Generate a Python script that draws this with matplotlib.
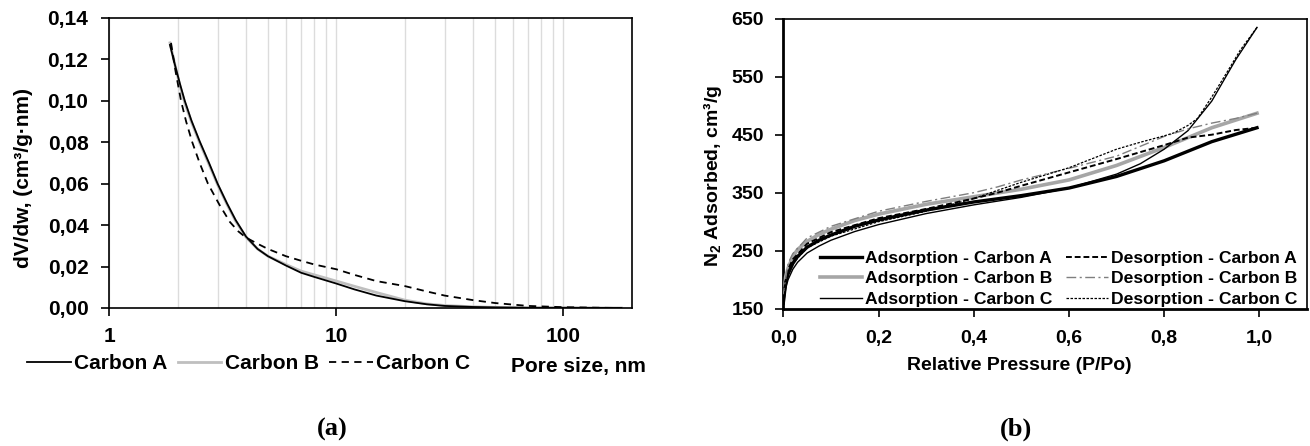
import matplotlib
matplotlib.use("Agg")
import numpy as np
from matplotlib import pyplot as plt
from matplotlib.ticker import FuncFormatter, FixedLocator

plt.rcParams['font.family'] = ['Liberation Sans', 'DejaVu Sans']
plt.rcParams['font.weight'] = 'bold'
plt.rcParams['mathtext.fontset'] = 'custom'
plt.rcParams['mathtext.rm'] = 'Liberation Sans:bold'
plt.rcParams['mathtext.bf'] = 'Liberation Sans:bold'

# (a) pore size distribution
pore_a = [1.85, 1.95, 2.05, 2.15, 2.3, 2.5, 2.75, 3.0, 3.3, 3.6, 4.0, 4.5, 5.0, 6.0,
          7.0, 8.0, 10.0, 12.0, 15.0, 20.0, 25.0, 30.0, 40.0, 50.0, 70.0, 100.0, 180.0]
dv_a = [0.127, 0.117, 0.108, 0.100, 0.0905, 0.0805, 0.070, 0.060, 0.0505, 0.0425,
        0.0345, 0.0285, 0.025, 0.0205, 0.017, 0.015, 0.0118, 0.009, 0.006, 0.0033,
        0.0018, 0.001, 0.0005, 0.0003, 0.0001, 0.0001, 0.0]
pore_b = [1.85, 1.95, 2.05, 2.15, 2.3, 2.5, 2.75, 3.0, 3.3, 3.6, 4.0, 4.5, 5.0, 6.0,
          7.0, 8.0, 10.0, 12.0, 15.0, 20.0, 25.0, 30.0, 40.0, 50.0, 70.0, 100.0, 180.0]
dv_b = [0.128, 0.117, 0.107, 0.099, 0.0898, 0.0798, 0.0693, 0.0595, 0.050, 0.042,
        0.0342, 0.0285, 0.025, 0.021, 0.0178, 0.016, 0.013, 0.0105, 0.0075, 0.0038,
        0.002, 0.0012, 0.0006, 0.0003, 0.0001, 0.0001, 0.0]
pore_c = [1.87, 1.96, 2.07, 2.18, 2.32, 2.5, 2.72, 3.05, 3.4, 3.7, 4.0, 4.5, 5.0, 6.0,
          7.0, 8.0, 10.0, 12.0, 15.0, 20.0, 25.0, 30.0, 40.0, 50.0, 70.0, 100.0, 150.0,
          180.0]
dv_c = [0.128, 0.114, 0.100, 0.090, 0.080, 0.070, 0.060, 0.050, 0.0415, 0.037, 0.034,
        0.031, 0.0285, 0.025, 0.0228, 0.021, 0.0187, 0.016, 0.013, 0.0106, 0.008, 0.006,
        0.0038, 0.0024, 0.001, 0.0004, 0.0001, 0.0]

# (b) N2 isotherms
p_ads_a = [0.0, 0.005, 0.01, 0.02, 0.03, 0.05, 0.075, 0.1, 0.15, 0.2, 0.3, 0.4, 0.5,
           0.6, 0.7, 0.8, 0.9, 0.995]
v_ads_a = [160, 195, 210, 228, 240, 256, 268, 277, 292, 303, 320, 334, 345, 358, 378,
           405, 438, 462]
p_ads_b = [0.0, 0.005, 0.01, 0.02, 0.03, 0.05, 0.075, 0.1, 0.15, 0.2, 0.3, 0.4, 0.5,
           0.6, 0.7, 0.8, 0.9, 0.995]
v_ads_b = [165, 205, 220, 240, 252, 266, 278, 287, 302, 313, 330, 343, 356, 372, 397,
           428, 462, 487]
p_ads_c = [0.0, 0.005, 0.01, 0.02, 0.03, 0.05, 0.075, 0.1, 0.15, 0.2, 0.3, 0.4, 0.5,
           0.6, 0.7, 0.75, 0.8, 0.85, 0.9, 0.95, 0.995]
v_ads_c = [155, 185, 200, 218, 230, 246, 258, 268, 283, 295, 314, 329, 342, 358, 382,
           400, 425, 457, 508, 579, 635]
p_des_a = [0.995, 0.95, 0.9, 0.85, 0.8, 0.75, 0.7, 0.6, 0.5, 0.45, 0.4, 0.3, 0.2, 0.1,
           0.05, 0.02, 0.01, 0.0]
v_des_a = [462, 458, 450, 445, 432, 420, 408, 385, 362, 350, 340, 322, 306, 282, 262,
           235, 218, 175]
p_des_b = [0.995, 0.95, 0.9, 0.85, 0.8, 0.7, 0.6, 0.55, 0.5, 0.45, 0.4, 0.3, 0.2, 0.1,
           0.05, 0.02, 0.01, 0.0]
v_des_b = [487, 478, 470, 460, 447, 413, 392, 382, 372, 360, 350, 335, 318, 292, 272,
           245, 228, 175]
p_des_c = [0.995, 0.96, 0.93, 0.9, 0.87, 0.85, 0.82, 0.8, 0.75, 0.7, 0.6, 0.5, 0.4,
           0.3, 0.2, 0.1, 0.05, 0.02, 0.01, 0.0]
v_des_c = [635, 596, 555, 515, 478, 466, 453, 448, 437, 425, 393, 368, 340, 318, 300,
           275, 255, 228, 210, 165]


def comma(fmt):
    return FuncFormatter(lambda v, pos: format(v, fmt).replace('.', ','))


W, H = 1310, 446
fig = plt.figure(figsize=(W / 100, H / 100), dpi=100)

# ---- panel (a)
ax1 = fig.add_axes([109.3 / W, 1 - 308 / H, 522.4 / W, 290 / H])
ax1.plot(pore_a, dv_a, color='black', lw=1.3, label='Carbon A', zorder=3)
ax1.plot(pore_b, dv_b, color='#bfbfbf', lw=2.0, label='Carbon B', zorder=2)
ax1.plot(pore_c, dv_c, color='black', lw=1.3, ls=(0, (4, 3)), label='Carbon C', zorder=4)
ax1.set_xscale('log')
ax1.set_xlim(1, 200)
ax1.set_ylim(0, 0.14)
ax1.set_yticks(np.arange(0, 0.141, 0.02))
ax1.yaxis.set_major_formatter(comma('.2f'))
ax1.xaxis.set_major_locator(FixedLocator([1, 10, 100]))
ax1.xaxis.set_major_formatter(FuncFormatter(lambda v, pos: f'{v:g}'))
ax1.xaxis.set_minor_locator(FixedLocator([2, 3, 4, 5, 6, 7, 8, 9, 20, 30, 40, 50,
                                          60, 70, 80, 90]))
ax1.grid(True, which='both', axis='x', color='#dcdcdc', lw=1.0)
ax1.set_axisbelow(True)
ax1.tick_params(which='minor', length=0)
ax1.tick_params(which='major', length=6, width=1.2, labelsize=15, direction='out')
ax1.tick_params(axis='y', pad=9)
ax1.tick_params(axis='x', pad=8)
for sp in ax1.spines.values():
    sp.set_linewidth(1.2)
fig.text(24 / W, 1 - 177.5 / H, 'dV/dw, (cm³/g·nm)', rotation=90, ha='center',
         va='center', fontsize=15, fontweight='bold')
ax1.legend(loc='center left', bbox_to_anchor=(-0.1575, -0.193), ncol=3, frameon=False,
           fontsize=15, handlelength=2.1, handletextpad=0.15, columnspacing=0.5,
           borderpad=0, borderaxespad=0)
ax1.text(1.0274, -0.203, 'Pore size, nm', transform=ax1.transAxes, ha='right',
         va='center', fontsize=15, fontweight='bold')

# ---- panel (b)
ax2 = fig.add_axes([783.3 / W, 1 - 308.7 / H, 523.7 / W, 290 / H])
ax2.plot(p_ads_a, v_ads_a, color='black', lw=2.4, label='Adsorption - Carbon A', zorder=4)
ax2.plot(p_ads_b, v_ads_b, color='#a6a6a6', lw=2.6, label='Adsorption - Carbon B', zorder=3)
ax2.plot(p_ads_c, v_ads_c, color='black', lw=1.0, label='Adsorption - Carbon C', zorder=5)
ax2.plot(p_des_a, v_des_a, color='black', lw=1.4, ls=(0, (3, 1.5)),
         label='Desorption - Carbon A', zorder=5)
ax2.plot(p_des_b, v_des_b, color='#7f7f7f', lw=1.0, ls=(0, (7, 2.5, 1.5, 2.5)),
         label='Desorption - Carbon B', zorder=5)
ax2.plot(p_des_c, v_des_c, color='black', lw=0.9, ls=(0, (2, 1.2)),
         label='Desorption - Carbon C', zorder=5)
ax2.set_xlim(0, 1.1)
ax2.set_ylim(150, 650)
ax2.set_xticks(np.arange(0, 1.01, 0.2))
ax2.set_yticks(np.arange(150, 651, 100))
ax2.xaxis.set_major_formatter(comma('.1f'))
ax2.tick_params(length=6, width=1.2, labelsize=14, direction='out')
ax2.tick_params(axis='y', pad=8)
ax2.tick_params(axis='x', pad=9)
for sp in ax2.spines.values():
    sp.set_linewidth(1.2)
ax2.spines['left'].set_linewidth(2)
ax2.spines['bottom'].set_linewidth(2)
ax2.text(0.45, (308.7 - 365) / 290, 'Relative Pressure (P/Po)', transform=ax2.transAxes,
         ha='center', va='center', fontsize=14, fontweight='bold')
fig.text(712 / W, 1 - 175.5 / H, r'N$_\mathbf{2}$ Adsorbed, cm³/g', rotation=90,
         ha='center', va='center', fontsize=14, fontweight='bold')
ax2.legend(loc='lower right', bbox_to_anchor=(0.985, 0.0), ncol=2, frameon=False,
           fontsize=12.6, handlelength=2.35, handletextpad=0.2, columnspacing=0.8,
           labelspacing=0.3, borderpad=0.1, borderaxespad=0)

fig.text(332 / W, 1 - 429 / H, '(a)', family='Liberation Serif', fontsize=19,
         fontweight='bold', ha='center', va='center')
fig.text(1016 / W, 1 - 429 / H, '(b)', family='Liberation Serif', fontsize=19,
         fontweight='bold', ha='center', va='center')

fig.savefig('out.png', dpi=100)
